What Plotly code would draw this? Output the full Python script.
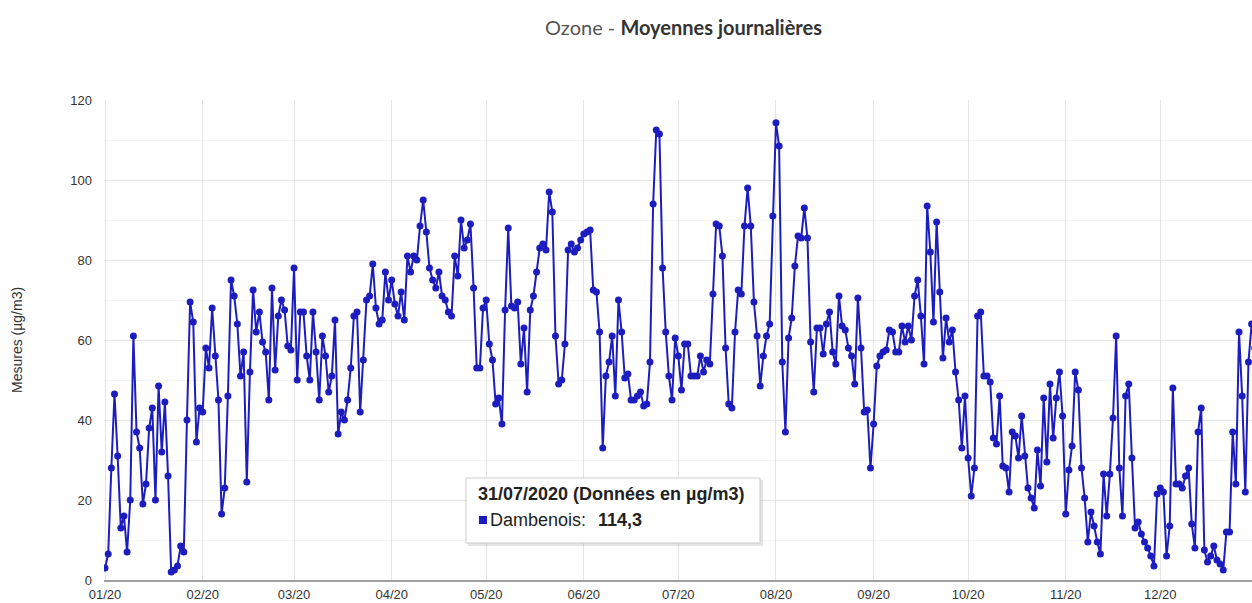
import pandas as pd
import plotly.graph_objects as go

## Daily ozone means (µg/m3), Dambenois station, 2020
jan = [3, 6.5, 28, 46.5, 31, 13, 16, 7, 20, 61, 37, 33, 19, 24, 38, 43, 20, 48.5, 32, 44.5,
       26, 2, 2.5, 3.5, 8.5, 7, 40, 69.5, 64.5, 34.5, 43]
feb = [42, 58, 53, 68, 56, 45, 16.5, 23, 46, 75, 71, 64, 51, 57, 24.5, 52, 72.5, 62, 67, 59.5,
       57, 45, 73, 52.5, 66, 70, 67.5, 58.5, 57.5]
mar = [78, 50, 67, 67, 56, 50, 67, 57, 45, 61, 56, 47, 51, 65, 36.5, 42, 40, 45, 53, 66,
       67, 42, 55, 70, 71, 79, 68, 64, 65, 77, 70]
apr = [75, 69, 66, 72, 65, 81, 77, 81, 80, 88.5, 95, 87, 78, 75, 73, 77, 71, 70, 67, 66,
       81, 76, 90, 83, 85, 89, 73, 53, 53, 68]
may = [70, 59, 55, 44, 45.5, 39, 67.5, 88, 68.5, 68, 69.5, 54, 63, 47, 67.5, 71, 77, 83, 84, 82.5,
       97, 92, 61, 49, 50, 59, 82.5, 84, 82, 83, 85]
jun = [86.5, 87, 87.5, 72.5, 72, 62, 33, 51, 54.5, 61, 46, 70, 62, 50.5, 51.5, 45, 45, 46, 47, 43.5,
       44, 54.5, 94, 112.5, 111.5, 78, 62, 51, 45, 60.5]
jul = [56, 47.5, 59, 59, 51, 51, 51, 56, 52, 55, 54, 71.5, 89, 88.5, 81, 58, 44, 43, 62, 72.5,
       71.5, 88.5, 98, 88.5, 69.5, 61, 48.5, 56, 61, 64, 91]
aug = [114.3, 108.5, 54.5, 37, 60.5, 65.5, 78.5, 86, 85.5, 93, 85.5, 59.5, 47, 63, 63, 56.5, 64, 67, 57, 54,
       71, 63.5, 62.5, 58, 56, 49, 70.5, 58, 42, 42.5, 28]
sep = [39, 53.5, 56, 57, 57.5, 62.5, 62, 57, 57, 63.5, 59.5, 63.5, 60, 71, 75, 66, 54, 93.5, 82, 64.5,
       89.5, 72, 55.5, 65.5, 59.5, 62.5, 52, 45, 33, 46]
octo = [30.5, 21, 28, 66, 67, 51, 51, 49.5, 35.5, 34, 46, 28.5, 28, 22, 37, 36, 30.5, 41, 31, 23,
        20.5, 18, 32.5, 23.5, 45.5, 29.5, 49, 35.5, 45.5, 52, 41]
nov = [16.5, 27.5, 33.5, 52, 47.5, 28, 20.5, 9.5, 17, 13.5, 9.5, 6.5, 26.5, 16, 26.5, 40.5, 61, 28, 16, 46,
       49, 30.5, 13, 14.5, 11.5, 9.5, 8, 6, 3.5, 21.5]
dec = [23, 22, 6, 13.5, 48, 24, 24, 23, 26, 28, 14, 8, 37, 43, 7.5, 4.5, 6, 8.5, 5, 4,
       2.5, 12, 12, 37, 24, 62, 46, 22, 54.5, 64, 58]

values = jan + feb + mar + apr + may + jun + jul + aug + sep + octo + nov + dec
# timestamps are end-of-day (a daily mean is stamped 00:00 the next day)
dates = pd.date_range("2020-01-01", periods=len(values), freq="D")

y_ticks = [0, 20, 40, 60, 80, 100, 120]

tooltip_date = "31/07/2020 (Données en µg/m3)"
tooltip_station = "Dambenois:"
tooltip_value = "114,3"

BLUE = "#1d1dbf"
FONT = "Arial, Liberation Sans, sans-serif"

W, H = 1252, 603
L, R, T, B = 104, 0, 100, 23
PW, PH = W - L - R, H - T - B


def px(x):
    return (x - L) / PW


def py(y):
    return (H - B - y) / PH


fig = go.Figure(go.Scatter(
    x=dates, y=values,
    mode="lines+markers",
    line=dict(color=BLUE, width=2),
    marker=dict(color=BLUE, size=7),
    name="Dambenois",
    hoverinfo="skip",
))

fig.update_layout(
    width=W, height=H,
    margin=dict(l=L, r=R, t=T, b=B),
    paper_bgcolor="white", plot_bgcolor="white",
    showlegend=False,
    font=dict(family=FONT, size=13, color="#444"),
    xaxis=dict(
        range=["2019-12-31 16:00", "2020-12-30 03:00"],
        tickformat="%m/%y", dtick="M1", tick0="2020-01-01",
        showgrid=True, gridcolor="#e4e4e4", gridwidth=1,
        showline=True, linecolor="#a0a0a0", linewidth=2,
        zeroline=False, ticks="", ticklabelstandoff=1,
        tickfont=dict(size=13, color="#333"),
        automargin=False,
    ),
    yaxis=dict(
        range=[0, 120], tickvals=y_ticks,
        showgrid=True, gridcolor="#e4e4e4", gridwidth=1,
        minor=dict(dtick=10, showgrid=True, gridcolor="#f4f4f4"),
        zeroline=False, showline=False, ticks="",
        ticklabelstandoff=11,
        tickfont=dict(size=13, color="#333"),
        automargin=False,
    ),
)

# title
fig.add_annotation(
    x=px(683), y=py(27), xref="paper", yref="paper",
    text="<span style='color:#555'>Ozone - </span><b>Moyennes journalières</b>",
    showarrow=False, xanchor="center", yanchor="middle",
    font=dict(family="Lato, Open Sans, sans-serif", size=20, color="#333"),
)

# y axis title
fig.add_annotation(
    x=px(17), y=py(340), xref="paper", yref="paper",
    text="Mesures (µg/m3)", textangle=-90,
    showarrow=False, xanchor="center", yanchor="middle",
    font=dict(family=FONT, size=14, color="#333"),
)

# tooltip box (static, as in the capture)
fig.add_shape(type="rect", xref="paper", yref="paper",
              x0=px(468), x1=px(763), y0=py(546), y1=py(480),
              fillcolor="rgba(0,0,0,0.10)", line=dict(width=0), layer="above")
fig.add_shape(type="rect", xref="paper", yref="paper",
              x0=px(466), x1=px(760), y0=py(543), y1=py(478),
              fillcolor="white", line=dict(color="#cccccc", width=1), layer="above")
fig.add_shape(type="rect", xref="paper", yref="paper",
              x0=px(479), x1=px(487), y0=py(524), y1=py(516),
              fillcolor=BLUE, line=dict(width=0), layer="above")
fig.add_annotation(
    x=px(476), y=py(494), xref="paper", yref="paper",
    text="<b>" + tooltip_date + "</b>", showarrow=False,
    xanchor="left", yanchor="middle",
    font=dict(family=FONT, size=18, color="#222"),
)
fig.add_annotation(
    x=px(488), y=py(520), xref="paper", yref="paper",
    text=tooltip_station, showarrow=False,
    xanchor="left", yanchor="middle",
    font=dict(family=FONT, size=18, color="#222"),
)
fig.add_annotation(
    x=px(596), y=py(520), xref="paper", yref="paper",
    text="<b>" + tooltip_value + "</b>", showarrow=False,
    xanchor="left", yanchor="middle",
    font=dict(family=FONT, size=18, color="#222"),
)

# the page's default body margin would push the chart 8px off
fig.write_html("out.html", config={"displayModeBar": False},
               post_script="document.body.style.margin='0';")
